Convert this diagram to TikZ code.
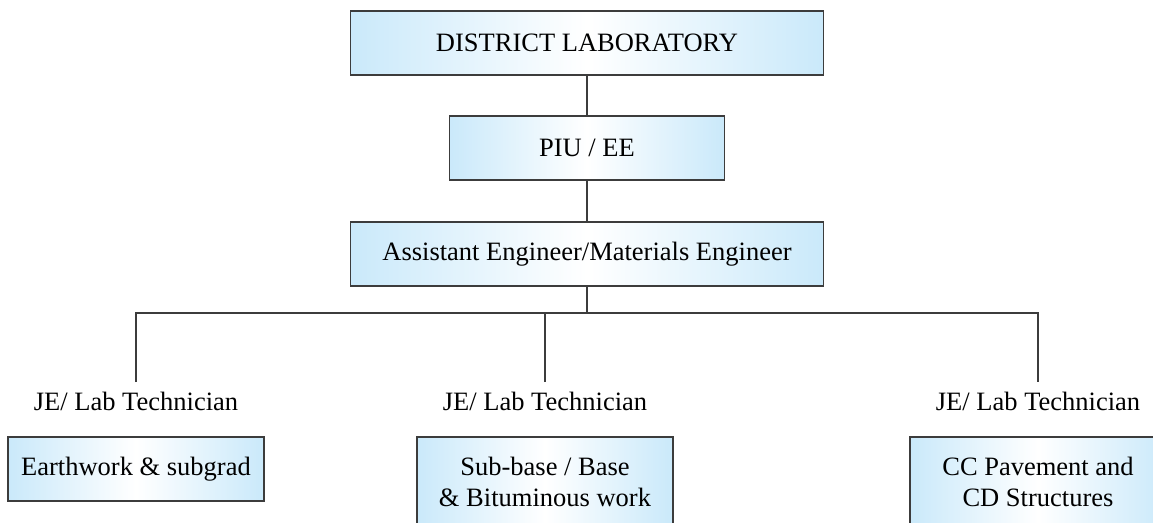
\documentclass[tikz,border=0pt]{standalone}
\usepackage{fontspec}
\setmainfont{Liberation Serif}
\usepackage{xcolor}
\definecolor{boxblue}{RGB}{202,233,250}
\definecolor{linegray}{RGB}{60,60,60}
\tikzset{
  unitbox/.style={draw=linegray, line width=0.55pt, left color=boxblue,
    right color=boxblue, middle color=white, align=center,
    inner sep=0pt},
  wide/.style={unitbox, minimum width=473*0.4pt, minimum height=64*0.4pt},
  narrow/.style={unitbox, minimum width=275*0.4pt, minimum height=64*0.4pt},
  work/.style={unitbox, minimum width=256*0.4pt, minimum height=90*0.4pt},
  tech/.style={inner sep=0pt, outer ysep=4pt, text height=7.5pt, text depth=2pt},
  link/.style={draw=linegray, line width=0.55pt}
}

\begin{document}
\begin{tikzpicture}[x=0.4pt, y=0.4pt, font=\fontsize{10.6}{12.4}\selectfont]
  \useasboundingbox (0,0) rectangle (1153,-522);
  \clip (0,0) rectangle (1153,-522);
  % top of the chart
  \node[wide]   (dlab) at (587,-43)  {DISTRICT LABORATORY};
  \node[narrow] (piu)  at (587,-148) {PIU / EE};
  \node[wide]   (ae)   at (587,-254) {Assistant Engineer/Materials Engineer};
  \coordinate (bus) at (587,-313);
  % technicians
  \node[tech] (techA) at (136,-404)  {JE/ Lab Technician};
  \node[tech] (techB) at (545,-404)  {JE/ Lab Technician};
  \node[tech] (techC) at (1038,-404) {JE/ Lab Technician};
  \node[work, minimum height=64*0.4pt] (earth) at (136,-469) {Earthwork \& subgrad};
  \node[work] (base) at (545,-482)  {Sub-base / Base\\ \& Bituminous work};
  \node[work] (ccpav) at (1038,-482) {CC Pavement and\\ CD Structures};
  % links
  \draw[link] (techA.north) -- (techA.north |- bus)
    -- (techC.north |- bus) -- (techC.north);
  \draw[link] (techB.north) -- (techB.north |- bus);
  \draw[link] (dlab) -- (piu);
  \draw[link] (piu) -- (ae);
  \draw[link] (ae) -- (bus);
\end{tikzpicture}
\end{document}
